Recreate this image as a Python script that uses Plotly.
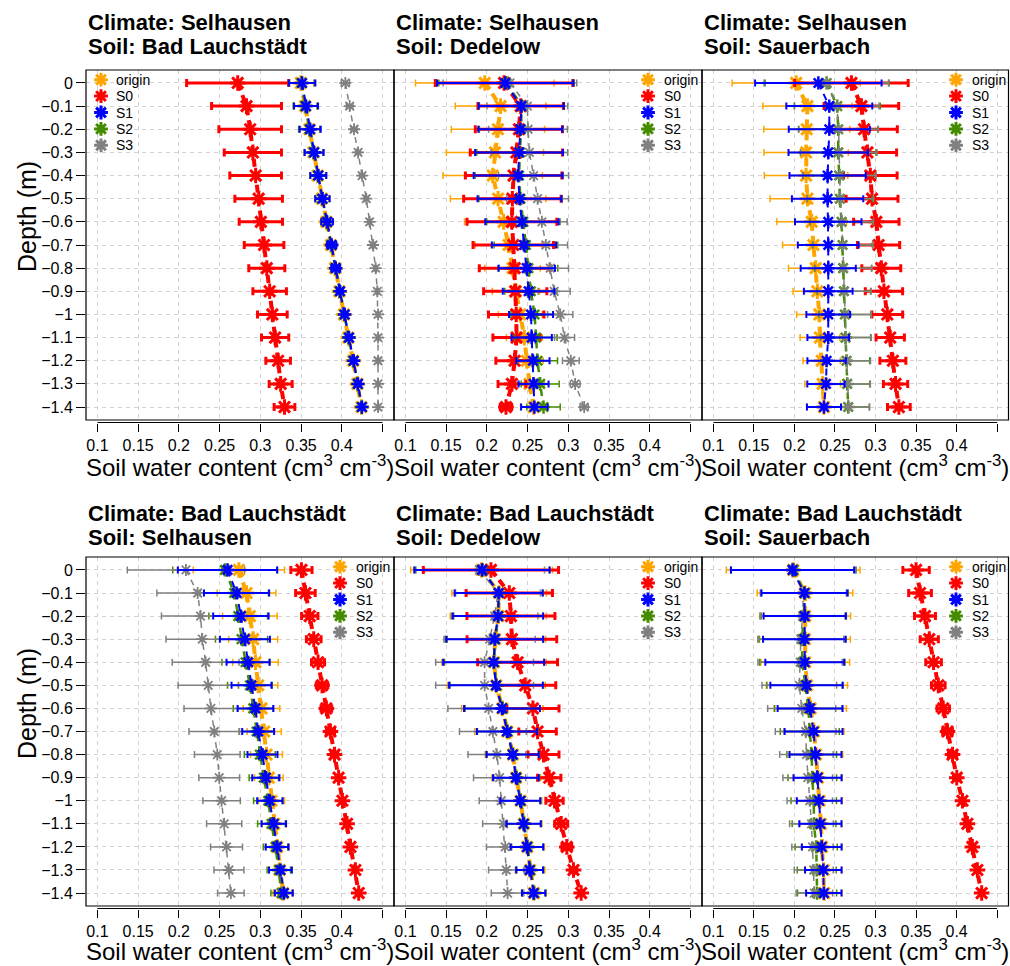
import plotly.graph_objects as go

# ---------------- data ----------------
DEPTH = [0.0, -0.1, -0.2, -0.3, -0.4, -0.5, -0.6, -0.7, -0.8, -0.9, -1.0, -1.1, -1.2, -1.3, -1.4]
DEPTH_LABELS = ["0", "\u22120.1", "\u22120.2", "\u22120.3", "\u22120.4", "\u22120.5", "\u22120.6",
                "\u22120.7", "\u22120.8", "\u22120.9", "\u22121", "\u22121.1", "\u22121.2",
                "\u22121.3", "\u22121.4"]
SWC_TICKS = [0.1, 0.15, 0.2, 0.25, 0.3, 0.35, 0.4]
SWC_LABELS = ["0.1", "0.15", "0.2", "0.25", "0.3", "0.35", "0.4"]
SWC_EXTRA_TICKS = [0.45]
SERIES = ["origin", "S0", "S1", "S2", "S3"]
CLIMATES = ["Selhausen", "Selhausen", "Selhausen", "Bad Lauchstädt", "Bad Lauchstädt", "Bad Lauchstädt"]
SOILS = ["Bad Lauchstädt", "Dedelow", "Sauerbach", "Selhausen", "Dedelow", "Sauerbach"]

# Panel 1: Climate Selhausen, Soil Bad Lauchstädt
P1_ORIGIN = [0.3496, 0.3549, 0.3602, 0.3652, 0.3703, 0.3755, 0.3810, 0.3866, 0.3916, 0.3970, 0.4026, 0.4080, 0.4138, 0.4190, 0.4240]
P1_ORIGIN_SD = [0.016, 0.0145, 0.0128, 0.0115, 0.0097, 0.0087, 0.007, 0.0057, 0.0052, 0.0037, 0.0033, 0.0029, 0.003, 0.0028, 0.0025]
P1_S0 = [0.2722, 0.2830, 0.2875, 0.2908, 0.2942, 0.2979, 0.3006, 0.3045, 0.3079, 0.3114, 0.3147, 0.3181, 0.3218, 0.3249, 0.3296]
P1_S0_SD = [0.0627, 0.0429, 0.0384, 0.0351, 0.0317, 0.0292, 0.0266, 0.0243, 0.0221, 0.0206, 0.0182, 0.0167, 0.0151, 0.0141, 0.0127]
P1_S1 = [0.3512, 0.3561, 0.3612, 0.3661, 0.3712, 0.3763, 0.3820, 0.3876, 0.3925, 0.3978, 0.4035, 0.4088, 0.4146, 0.4198, 0.4247]
P1_S1_SD = [0.0163, 0.0147, 0.0129, 0.0116, 0.0098, 0.0088, 0.0071, 0.0057, 0.0053, 0.0037, 0.0033, 0.0029, 0.0031, 0.0029, 0.0025]
P1_S2 = [0.3505, 0.3550, 0.3600, 0.3653, 0.3706, 0.3757, 0.3814, 0.3871, 0.3921, 0.3973, 0.4030, 0.4083, 0.4141, 0.4193, 0.4243]
P1_S2_SD = [0.0158, 0.0146, 0.013, 0.0115, 0.0098, 0.0087, 0.0071, 0.0057, 0.0052, 0.0037, 0.0033, 0.0029, 0.003, 0.0028, 0.0025]
P1_S3 = [0.4043, 0.4096, 0.4150, 0.4199, 0.4248, 0.4300, 0.4341, 0.4382, 0.4415, 0.4435, 0.4444, 0.4444, 0.4444, 0.4444, 0.4444]
P1_S3_SD = [0.005, 0.004, 0.0035, 0.003, 0.003, 0.0025, 0.002, 0.002, 0.0015, 0.0012, 0.001, 0.001, 0.001, 0.001, 0.001]

# Panel 2: Climate Selhausen, Soil Dedelow
P2_ORIGIN = [0.1974, 0.2168, 0.2136, 0.2099, 0.2072, 0.2138, 0.2205, 0.2266, 0.2315, 0.2356, 0.2410, 0.2460, 0.2490, 0.2524, 0.2573]
P2_ORIGIN_SD = [0.085, 0.0556, 0.0572, 0.0596, 0.061, 0.0586, 0.048, 0.041, 0.034, 0.029, 0.027, 0.022, 0.020, 0.018, 0.016]
P2_S0 = [0.2211, 0.2415, 0.2393, 0.2362, 0.2328, 0.2313, 0.2307, 0.2324, 0.2342, 0.2348, 0.2360, 0.2364, 0.2340, 0.2307, 0.2234]
P2_S0_SD = [0.0844, 0.0525, 0.0535, 0.0566, 0.0592, 0.0598, 0.0551, 0.0494, 0.0435, 0.0388, 0.034, 0.029, 0.023, 0.017, 0.007]
P2_S1 = [0.2225, 0.2422, 0.2410, 0.2395, 0.2383, 0.2400, 0.2430, 0.2455, 0.2488, 0.2512, 0.2542, 0.2550, 0.2565, 0.2573, 0.2583]
P2_S1_SD = [0.0837, 0.0523, 0.0515, 0.054, 0.0545, 0.0515, 0.045, 0.0394, 0.0347, 0.0317, 0.027, 0.0247, 0.0204, 0.0184, 0.0163]
P2_S2 = [0.2240, 0.2428, 0.2418, 0.2405, 0.2395, 0.2412, 0.2448, 0.2479, 0.2510, 0.2540, 0.2585, 0.2601, 0.2622, 0.2654, 0.2695]
P2_S2_SD = [0.083, 0.052, 0.051, 0.053, 0.054, 0.051, 0.045, 0.039, 0.036, 0.032, 0.029, 0.026, 0.0245, 0.0233, 0.0205]
P2_S3 = [0.2283, 0.2497, 0.2505, 0.2522, 0.2573, 0.2622, 0.2675, 0.2724, 0.2777, 0.2826, 0.2900, 0.2953, 0.3030, 0.3083, 0.3194]
P2_S3_SD = [0.082, 0.0496, 0.0484, 0.047, 0.043, 0.038, 0.031, 0.0266, 0.0225, 0.0196, 0.0155, 0.0123, 0.0102, 0.006, 0.005]

# Panel 3: Climate Selhausen, Soil Sauerbach
P3_ORIGIN = [0.2021, 0.2160, 0.2152, 0.2144, 0.2144, 0.2160, 0.2213, 0.2234, 0.2262, 0.2283, 0.2307, 0.2315, 0.2336, 0.2348, 0.2364]
P3_ORIGIN_SD = [0.079, 0.055, 0.053, 0.052, 0.0515, 0.046, 0.043, 0.038, 0.0335, 0.030, 0.028, 0.0245, 0.023, 0.022, 0.021]
P3_S0 = [0.2703, 0.2826, 0.2859, 0.2900, 0.2936, 0.2957, 0.3010, 0.3038, 0.3071, 0.3104, 0.3145, 0.3181, 0.3214, 0.3247, 0.3288]
P3_S0_SD = [0.070, 0.046, 0.041, 0.036, 0.033, 0.032, 0.028, 0.026, 0.024, 0.023, 0.019, 0.0175, 0.016, 0.015, 0.014]
P3_S1 = [0.2295, 0.2430, 0.2430, 0.2417, 0.2409, 0.2409, 0.2417, 0.2417, 0.2417, 0.2417, 0.2417, 0.2417, 0.2397, 0.2389, 0.2364]
P3_S1_SD = [0.078, 0.053, 0.050, 0.049, 0.047, 0.044, 0.041, 0.0375, 0.034, 0.030, 0.027, 0.0257, 0.0237, 0.023, 0.021]
P3_S2 = [0.2397, 0.2528, 0.2540, 0.2540, 0.2552, 0.2560, 0.2581, 0.2593, 0.2600, 0.2610, 0.2622, 0.2630, 0.2642, 0.2650, 0.2663]
P3_S2_SD = [0.077, 0.053, 0.049, 0.0466, 0.045, 0.040, 0.039, 0.037, 0.035, 0.033, 0.032, 0.031, 0.0286, 0.028, 0.026]
P3_S3 = [0.2400, 0.2522, 0.2545, 0.2548, 0.2558, 0.2566, 0.2585, 0.2598, 0.2605, 0.2615, 0.2628, 0.2636, 0.2648, 0.2656, 0.2668]
P3_S3_SD = [0.076, 0.052, 0.049, 0.047, 0.045, 0.041, 0.039, 0.037, 0.035, 0.033, 0.032, 0.031, 0.029, 0.028, 0.026]

# Panel 4: Climate Bad Lauchstädt, Soil Selhausen
P4_ORIGIN = [0.2736, 0.2830, 0.2871, 0.2912, 0.2940, 0.2973, 0.3014, 0.3047, 0.3075, 0.3104, 0.3136, 0.3169, 0.3206, 0.3239, 0.3280]
P4_ORIGIN_SD = [0.056, 0.036, 0.0335, 0.030, 0.028, 0.024, 0.0225, 0.021, 0.0196, 0.0176, 0.016, 0.015, 0.0143, 0.0135, 0.0123]
P4_S0 = [0.3504, 0.3553, 0.3606, 0.3655, 0.3708, 0.3757, 0.3810, 0.3860, 0.3910, 0.3960, 0.4007, 0.4064, 0.4105, 0.4166, 0.4207]
P4_S0_SD = [0.013, 0.012, 0.010, 0.009, 0.008, 0.007, 0.0065, 0.005, 0.004, 0.003, 0.002, 0.002, 0.002, 0.001, 0.001]
P4_S1 = [0.2597, 0.2708, 0.2761, 0.2810, 0.2850, 0.2891, 0.2940, 0.2973, 0.3026, 0.3067, 0.3116, 0.3165, 0.3206, 0.3247, 0.3288]
P4_S1_SD = [0.061, 0.040, 0.034, 0.0307, 0.0265, 0.0245, 0.022, 0.0196, 0.0184, 0.0167, 0.0155, 0.015, 0.014, 0.014, 0.011]
P4_S2 = [0.2565, 0.2679, 0.2728, 0.2769, 0.2818, 0.2871, 0.2912, 0.2953, 0.2993, 0.3042, 0.3096, 0.3136, 0.3186, 0.3226, 0.3259]
P4_S2_SD = [0.064, 0.042, 0.036, 0.032, 0.029, 0.0274, 0.0245, 0.0213, 0.019, 0.018, 0.018, 0.017, 0.015, 0.0143, 0.013]
P4_S3 = [0.2087, 0.2230, 0.2266, 0.2287, 0.2328, 0.2360, 0.2393, 0.2434, 0.2471, 0.2495, 0.2524, 0.2556, 0.2585, 0.2614, 0.2638]
P4_S3_SD = [0.072, 0.050, 0.048, 0.0445, 0.041, 0.037, 0.033, 0.031, 0.028, 0.025, 0.023, 0.0216, 0.0196, 0.0184, 0.0163]

# Panel 5: Climate Bad Lauchstädt, Soil Dedelow
P5_ORIGIN = [0.1935, 0.2150, 0.2140, 0.2100, 0.2088, 0.2116, 0.2190, 0.2250, 0.2320, 0.2360, 0.2414, 0.2455, 0.2496, 0.2530, 0.2578]
P5_ORIGIN_SD = [0.087, 0.058, 0.059, 0.062, 0.064, 0.060, 0.050, 0.040, 0.034, 0.030, 0.026, 0.022, 0.021, 0.018, 0.015]
P5_S0 = [0.2050, 0.2275, 0.2295, 0.2307, 0.2377, 0.2470, 0.2565, 0.2622, 0.2695, 0.2765, 0.2830, 0.2912, 0.2981, 0.3063, 0.3157]
P5_S0_SD = [0.083, 0.053, 0.054, 0.055, 0.049, 0.0375, 0.032, 0.023, 0.019, 0.0143, 0.0106, 0.008, 0.006, 0.004, 0.002]
P5_S1 = [0.1940, 0.2144, 0.2136, 0.2095, 0.2083, 0.2111, 0.2185, 0.2246, 0.2315, 0.2356, 0.2409, 0.2450, 0.2491, 0.2524, 0.2573]
P5_S1_SD = [0.083, 0.054, 0.0555, 0.0595, 0.062, 0.0575, 0.0465, 0.037, 0.032, 0.028, 0.0245, 0.021, 0.020, 0.0165, 0.0143]
P5_S2 = [0.1948, 0.2150, 0.2142, 0.2103, 0.2090, 0.2118, 0.2192, 0.2254, 0.2322, 0.2364, 0.2417, 0.2458, 0.2499, 0.2532, 0.2580]
P5_S2_SD = [0.082, 0.054, 0.055, 0.059, 0.061, 0.057, 0.046, 0.037, 0.032, 0.028, 0.0245, 0.021, 0.0195, 0.0165, 0.0143]
P5_S3 = [0.1907, 0.2136, 0.2095, 0.2033, 0.1972, 0.1972, 0.2021, 0.2074, 0.2123, 0.2156, 0.2176, 0.2205, 0.2225, 0.2238, 0.2254]
P5_S3_SD = [0.080, 0.052, 0.053, 0.056, 0.060, 0.060, 0.050, 0.041, 0.0355, 0.032, 0.027, 0.0257, 0.023, 0.0217, 0.020]

# Panel 6: Climate Bad Lauchstädt, Soil Sauerbach
P6_ORIGIN = [0.1985, 0.2130, 0.2133, 0.2130, 0.2133, 0.2155, 0.2200, 0.2242, 0.2266, 0.2290, 0.2310, 0.2326, 0.2341, 0.2360, 0.2367]
P6_ORIGIN_SD = [0.0825, 0.059, 0.056, 0.056, 0.0547, 0.050, 0.0441, 0.037, 0.033, 0.030, 0.028, 0.026, 0.0245, 0.0225, 0.022]
P6_S0 = [0.3500, 0.3549, 0.3610, 0.3663, 0.3716, 0.3774, 0.3835, 0.3888, 0.3950, 0.4002, 0.4072, 0.4133, 0.4194, 0.4256, 0.4309]
P6_S0_SD = [0.0163, 0.014, 0.0129, 0.0112, 0.0096, 0.0084, 0.0076, 0.006, 0.005, 0.004, 0.003, 0.003, 0.002, 0.002, 0.002]
P6_S1 = [0.1976, 0.2123, 0.2127, 0.2123, 0.2127, 0.2148, 0.2193, 0.2236, 0.2260, 0.2285, 0.2305, 0.2320, 0.2336, 0.2356, 0.2362]
P6_S1_SD = [0.076, 0.053, 0.0507, 0.051, 0.0486, 0.0445, 0.040, 0.0357, 0.032, 0.0296, 0.0276, 0.026, 0.0245, 0.0225, 0.0218]
P6_S2 = [0.1990, 0.2127, 0.2115, 0.2093, 0.2097, 0.2130, 0.2172, 0.2189, 0.2213, 0.2220, 0.2238, 0.2242, 0.2268, 0.2275, 0.2279]
P6_S2_SD = [0.077, 0.0535, 0.0525, 0.053, 0.0525, 0.047, 0.042, 0.0364, 0.0306, 0.030, 0.028, 0.027, 0.026, 0.024, 0.0241]
P6_S3 = [0.1985, 0.2110, 0.2100, 0.2078, 0.2070, 0.2060, 0.2090, 0.2138, 0.2148, 0.2164, 0.2189, 0.2210, 0.2223, 0.2238, 0.2246]
P6_S3_SD = [0.077, 0.053, 0.0525, 0.053, 0.052, 0.046, 0.042, 0.0374, 0.033, 0.0306, 0.028, 0.027, 0.0255, 0.024, 0.0225]

PANEL_MEANS = [
    [P1_ORIGIN, P1_S0, P1_S1, P1_S2, P1_S3],
    [P2_ORIGIN, P2_S0, P2_S1, P2_S2, P2_S3],
    [P3_ORIGIN, P3_S0, P3_S1, P3_S2, P3_S3],
    [P4_ORIGIN, P4_S0, P4_S1, P4_S2, P4_S3],
    [P5_ORIGIN, P5_S0, P5_S1, P5_S2, P5_S3],
    [P6_ORIGIN, P6_S0, P6_S1, P6_S2, P6_S3],
]
PANEL_SDS = [
    [P1_ORIGIN_SD, P1_S0_SD, P1_S1_SD, P1_S2_SD, P1_S3_SD],
    [P2_ORIGIN_SD, P2_S0_SD, P2_S1_SD, P2_S2_SD, P2_S3_SD],
    [P3_ORIGIN_SD, P3_S0_SD, P3_S1_SD, P3_S2_SD, P3_S3_SD],
    [P4_ORIGIN_SD, P4_S0_SD, P4_S1_SD, P4_S2_SD, P4_S3_SD],
    [P5_ORIGIN_SD, P5_S0_SD, P5_S1_SD, P5_S2_SD, P5_S3_SD],
    [P6_ORIGIN_SD, P6_S0_SD, P6_S1_SD, P6_S2_SD, P6_S3_SD],
]

# ---------------- style ----------------
STYLE = {
    "origin": dict(color="#FFA500", lw=4, msize=13, mlw=3, ew=1.5, ecap=3.5, dash="8px,5px"),
    "S0": dict(color="#FF0000", lw=4, msize=13, mlw=3, ew=3, ecap=4, dash="8px,5px"),
    "S1": dict(color="#0000FF", lw=2, msize=11, mlw=2.5, ew=2, ecap=3.5, dash="7px,5px"),
    "S2": dict(color="#458B00", lw=2.5, msize=11, mlw=2.5, ew=1.5, ecap=3.5, dash="7px,5px"),
    "S3": dict(color="#808080", lw=1.5, msize=10, mlw=1.8, ew=1.5, ecap=3.5, dash="6px,5px"),
}
DRAW_ORDER = ["origin", "S0", "S2", "S3", "S1"]
FONT = "Liberation Sans, Arial, Helvetica, sans-serif"
GRID = "#D3D3D3"

W, H = 1010, 966
COLS = [(86, 394), (394, 702), (702, 1008.5)]
ROWS = [(70, 420), (557, 906)]
TITLE_Y = [(22.5, 47), (513, 537.5)]
XLAB_Y = [466, 950]
YLAB_Y = [217, 704]
XRANGE = [0.086, 0.464]
YRANGE = [-1.456, 0.056]
# legend key placement (pixels, relative to the panel frame)
LEG_LEFT_SYM, LEG_LEFT_TXT = 15, 28
LEG_RIGHT_SYM, LEG_RIGHT_TXT = 254, 268
LEG_ROW_OFF = [9.7, 26.1, 42.5, 58.9, 75.3]


def px(v):
    return v / W


def py(v):
    return 1 - v / H


fig = go.Figure()
layout = dict(width=W, height=H, margin=dict(l=0, r=0, t=0, b=0),
              paper_bgcolor="white", plot_bgcolor="white",
              font=dict(family=FONT, color="black"), showlegend=False)
shapes, annotations = [], []

for k in range(6):
    r, c = divmod(k, 3)
    ax = "" if k == 0 else str(k + 1)
    xr, yr = "x" + ax, "y" + ax
    x0, x1 = COLS[c]
    yt, yb = ROWS[r]
    means = dict(zip(SERIES, PANEL_MEANS[k]))
    sds = dict(zip(SERIES, PANEL_SDS[k]))
    for s in DRAW_ORDER:
        st = STYLE[s]
        fig.add_trace(go.Scatter(
            x=means[s], y=DEPTH, mode="lines+markers", name=s,
            line=dict(color=st["color"], width=st["lw"], dash=st["dash"]),
            marker=dict(symbol="asterisk-open", size=st["msize"], color=st["color"],
                        line=dict(width=st["mlw"], color=st["color"])),
            error_x=dict(type="data", array=sds[s], symmetric=True, color=st["color"],
                         thickness=st["ew"], width=st["ecap"]),
            xaxis=xr, yaxis=yr, showlegend=False, hoverinfo="skip"))

    xpos = py(yb + 2.5)
    layout["xaxis" + ax] = dict(
        domain=[px(x0), px(x1)], range=XRANGE, tickmode="array", tickvals=SWC_TICKS,
        ticktext=SWC_LABELS, ticks="outside", ticklen=8, tickwidth=1, tickcolor="black",
        minor=dict(tickmode="array", tickvals=SWC_EXTRA_TICKS, ticks="outside", ticklen=8,
                   tickwidth=1, tickcolor="black", showgrid=True, gridcolor=GRID,
                   griddash="4px,4px", gridwidth=1),
        anchor="free", position=xpos, showline=False, showgrid=True, gridcolor=GRID,
        griddash="4px,4px", gridwidth=1, zeroline=False,
        tickfont=dict(size=16, color="black", family=FONT), fixedrange=True)
    layout["yaxis" + ax] = dict(
        domain=[py(yb), py(yt)], range=YRANGE, tickmode="array", tickvals=DEPTH,
        ticktext=DEPTH_LABELS, ticks="outside" if c == 0 else "", ticklen=9,
        tickwidth=1, tickcolor="black", showticklabels=(c == 0), anchor=xr,
        showline=False, showgrid=True, gridcolor=GRID, griddash="4px,4px", gridwidth=1,
        zeroline=False, tickfont=dict(size=16, color="black", family=FONT), fixedrange=True)

    # ----- legend key (drawn on an invisible overlay in pixel units) -----
    n = str(7 + k)
    xo, yo = "x" + n, "y" + n
    layout["xaxis" + n] = dict(overlaying=xr, anchor=yo, range=[x0, x1], visible=False,
                               fixedrange=True)
    layout["yaxis" + n] = dict(overlaying=yr, anchor=xo, range=[yb, yt], visible=False,
                               fixedrange=True)
    left = (k == 0)
    sym_x = x0 + (LEG_LEFT_SYM if left else LEG_RIGHT_SYM)
    txt_x = x0 + (LEG_LEFT_TXT if left else LEG_RIGHT_TXT)
    key_y = [yt + o for o in LEG_ROW_OFF]
    key_colors = [STYLE[s]["color"] for s in SERIES]
    fig.add_trace(go.Scatter(
        x=[sym_x] * len(SERIES), y=key_y, mode="markers", name="legend",
        marker=dict(symbol="asterisk-open", size=11.5, color=key_colors,
                    line=dict(width=3, color=key_colors)),
        xaxis=xo, yaxis=yo, showlegend=False, hoverinfo="skip", cliponaxis=False))
    for s, yy in zip(SERIES, key_y):
        annotations.append(dict(text=s, xref="paper", yref="paper", x=px(txt_x), y=py(yy),
                                xanchor="left", yanchor="middle", showarrow=False,
                                font=dict(size=14, family=FONT, color="black")))

    # frame
    shapes.append(dict(type="rect", xref=xr + " domain", yref=yr + " domain",
                       x0=0, x1=1, y0=0, y1=1, line=dict(color="black", width=1.2),
                       fillcolor="rgba(0,0,0,0)", layer="above"))
    # detached x axis line (first to last tick)
    shapes.append(dict(type="line", xref=xr, yref="paper", x0=SWC_TICKS[0],
                       x1=SWC_EXTRA_TICKS[-1], y0=xpos, y1=xpos,
                       line=dict(color="black", width=1)))

    # titles
    annotations.append(dict(text="Climate: " + CLIMATES[k], xref="paper", yref="paper",
                            x=px(x0), y=py(TITLE_Y[r][0]), xanchor="left", yanchor="middle",
                            showarrow=False, font=dict(size=22, family=FONT, weight="bold")))
    annotations.append(dict(text="Soil: " + SOILS[k], xref="paper", yref="paper",
                            x=px(x0), y=py(TITLE_Y[r][1]), xanchor="left", yanchor="middle",
                            showarrow=False, font=dict(size=22, family=FONT, weight="bold")))
    # x-axis title
    annotations.append(dict(text="Soil water content (cm<sup>3</sup> cm<sup>-3</sup>)",
                            xref="paper", yref="paper", x=px((x0 + x1) / 2), y=py(XLAB_Y[r]),
                            xanchor="center", yanchor="middle", showarrow=False,
                            font=dict(size=24, family=FONT)))
    if c == 0:
        annotations.append(dict(text="Depth (m)", xref="paper", yref="paper", x=px(27),
                                y=py(YLAB_Y[r]), xanchor="center", yanchor="middle",
                                textangle=-90, showarrow=False, font=dict(size=25, family=FONT)))

layout["shapes"] = shapes
layout["annotations"] = annotations
fig.update_layout(**layout)
fig.write_html("out.html")
